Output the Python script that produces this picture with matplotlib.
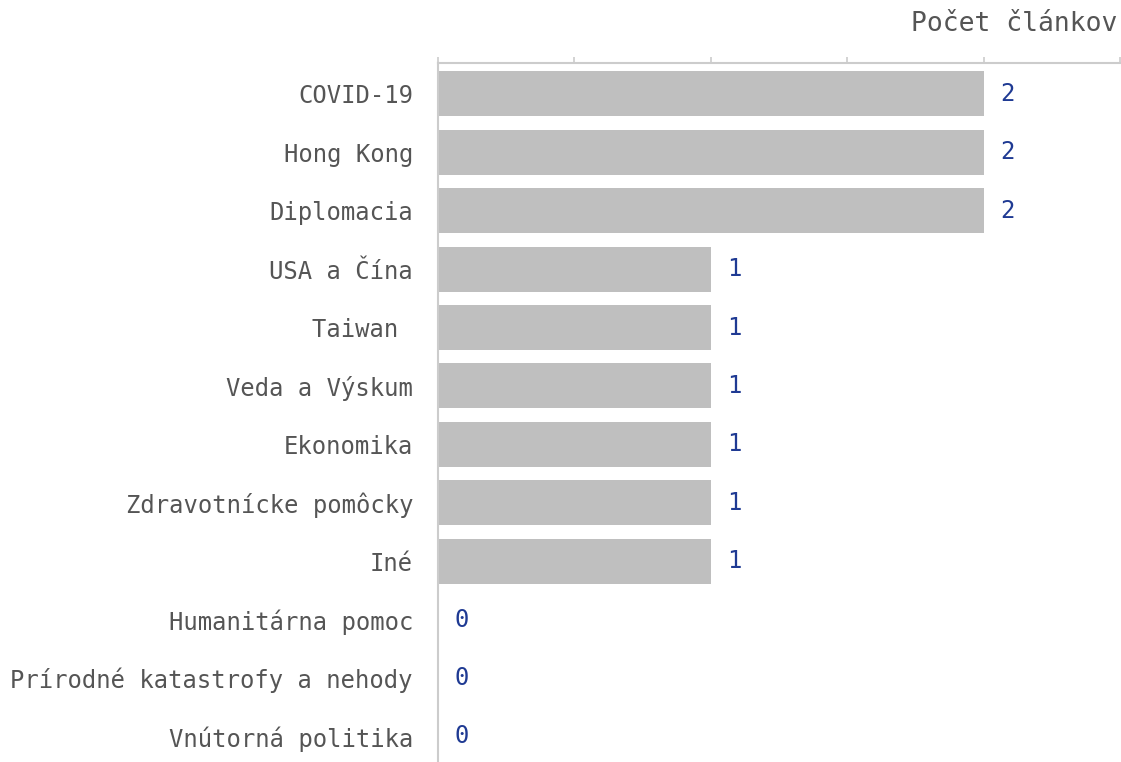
import matplotlib
matplotlib.use("Agg")
import matplotlib.pyplot as plt
from matplotlib.ticker import MultipleLocator

categories = ["COVID-19", "Hong Kong", "Diplomacia", "USA a Čína", "Taiwan ",
              "Veda a Výskum", "Ekonomika", "Zdravotnícke pomôcky", "Iné",
              "Humanitárna pomoc", "Prírodné katastrofy a nehody", "Vnútorná politika"]
values = [2, 2, 2, 1, 1, 1, 1, 1, 1, 0, 0, 0]
axis_title = "Počet článkov"

plt.rcParams['font.family'] = ['DejaVu Sans Mono']
text_color = "#555555"
label_color = "#1f3a93"
bar_color = "#bfbfbf"
line_color = "#cccccc"
fs = 17.2

fig = plt.figure(figsize=(11.21, 7.62), dpi=100)
ax = fig.add_axes([438/1121, 0.0, (1120-438)/1121, (762-63)/762])

ypos = list(range(len(categories)))
ax.barh(ypos, values, height=0.77, color=bar_color)
ax.set_xlim(0, 2.5)
ax.set_ylim(11.44, -0.53)
ax.set_yticks(ypos)
ax.set_yticklabels(categories, fontsize=fs, color=text_color)
ax.tick_params(axis='y', length=0, pad=18)
ax.xaxis.set_major_locator(MultipleLocator(0.5))
ax.xaxis.tick_top()
ax.tick_params(axis='x', length=4.5, width=1.2, color=line_color, labeltop=False, labelbottom=False)
for s in ["right", "bottom"]:
    ax.spines[s].set_visible(False)
for s in ["top", "left"]:
    ax.spines[s].set_color(line_color)
    ax.spines[s].set_linewidth(1.5)

for y, v in zip(ypos, values):
    ax.annotate(str(v), (v, y), xytext=(12, 0), textcoords="offset points",
                va="center", ha="left", fontsize=fs, color=label_color)

fig.text(1117/1121, 1 - 24/762, axis_title, ha="right", va="center",
         fontsize=19, color=text_color)

fig.savefig("out.png", dpi=100)
